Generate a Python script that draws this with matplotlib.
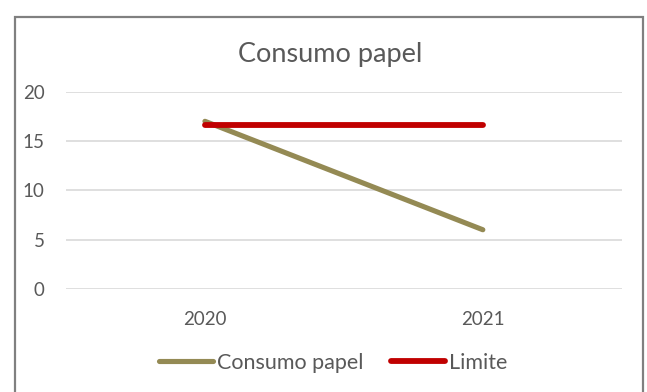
import matplotlib.pyplot as plt
from matplotlib.patches import Rectangle

# Datos
anios = ['2020', '2021']
consumo_papel = [17.0, 6.0]
limite = [16.6, 16.6]

COLOR_CONSUMO = '#948A54'
COLOR_LIMITE = '#C00000'
COLOR_TEXTO = '#595959'

plt.rcParams['font.family'] = ['Lato', 'DejaVu Sans']

fig = plt.figure(figsize=(6.47, 3.92), dpi=100)
ax = fig.add_axes([0.102, 0.263, 0.859, 0.503])

x = range(len(anios))
ax.plot(x, consumo_papel, color=COLOR_CONSUMO, lw=3.7, solid_capstyle='round', label='Consumo papel')
ax.plot(x, limite, color=COLOR_LIMITE, lw=4.2, solid_capstyle='round', label='Limite')

ax.set_xlim(-0.5, 1.5)
ax.set_ylim(0, 20)
ax.set_yticks([0, 5, 10, 15, 20])
ax.set_xticks(list(x))
ax.set_xticklabels(anios)
ax.tick_params(length=0, labelsize=13.5, labelcolor=COLOR_TEXTO)
ax.tick_params(axis='y', pad=15.5)
ax.tick_params(axis='x', pad=16)
ax.grid(axis='y', color='#D9D9D9', lw=1.2)
ax.set_axisbelow(True)
for s in ax.spines.values():
    s.set_visible(False)

fig.text(0.51, 0.862, 'Consumo papel', ha='center', va='center', fontsize=19.5, color=COLOR_TEXTO)

leg = fig.legend(loc='center', bbox_to_anchor=(0.515, 0.074), ncol=2, frameon=False,
                 fontsize=15.5, handlelength=2.5, handletextpad=0.18, columnspacing=1.3)
for t in leg.get_texts():
    t.set_color(COLOR_TEXTO)

# Marco del gráfico
fig.patches.append(Rectangle((15 / 647, -0.05), 628 / 647, 1 - 17 / 392 + 0.05,
                             transform=fig.transFigure, fill=False, edgecolor='#808080', lw=1.6))

fig.savefig('out.png', dpi=100)
